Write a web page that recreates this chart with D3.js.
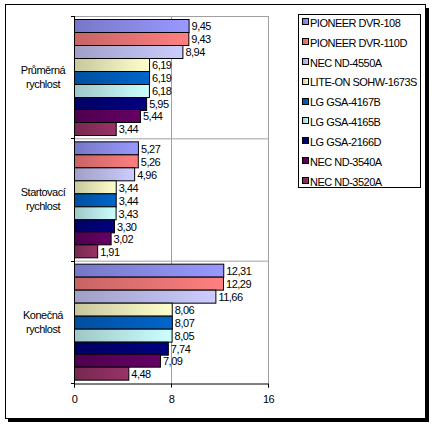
<!DOCTYPE html>
<html><head><meta charset="utf-8">
<script src="https://cdn.jsdelivr.net/npm/d3@7"></script>
<style>body{margin:0;background:#fff}svg{display:block}text{font-family:Arial,"Liberation Sans",sans-serif;font-size:11px;fill:#000;letter-spacing:-0.5px}</style>
</head><body><svg id="c" width="434" height="427"></svg>
<script>
const categories = [["Průměrná","rychlost"],["Startovací","rychlost"],["Konečná","rychlost"]];
const seriesNames = ["PIONEER DVR-108","PIONEER DVR-110D","NEC ND-4550A","LITE-ON SOHW-1673S","LG GSA-4167B","LG GSA-4165B","LG GSA-2166D","NEC ND-3540A","NEC ND-3520A"];
const prumerna = [9.45,9.43,8.94,6.19,6.19,6.18,5.95,5.44,3.44];
const startovaci = [5.27,5.26,4.96,3.44,3.44,3.43,3.30,3.02,1.91];
const konecna = [12.31,12.29,11.66,8.06,8.07,8.05,7.74,7.09,4.48];
const xTicks = [0,8,16];
const colors = ["#9999ff","#ff8080","#ccccff","#ffffcc","#0066cc","#ccffff","#000080","#660066","#993366"];

const values = [prumerna,startovaci,konecna];
const svg = d3.select("#c");
const defs = svg.append("defs");
colors.forEach((c,i)=>{
  const g = defs.append("linearGradient").attr("id","g"+i).attr("x1",0).attr("x2",1).attr("y1",0).attr("y2",0);
  g.append("stop").attr("offset",0).attr("stop-color",d3.color(c).darker(0.7));
  g.append("stop").attr("offset",1).attr("stop-color",c);
});

// frame with shadow
svg.append("rect").attr("x",8).attr("y",8).attr("width",421).attr("height",414).attr("fill","#000");
svg.append("rect").attr("x",5.5).attr("y",4.5).attr("width",420).attr("height",414).attr("fill","#fff").attr("stroke","#000");

const L=74, R=268, T=16, B=383;
const x = d3.scaleLinear().domain([0,16]).range([L,R]);
const y0 = d3.scaleBand().domain(d3.range(categories.length)).range([T,B]).paddingInner(0).paddingOuter(0);
const y1 = d3.scaleBand().domain(d3.range(seriesNames.length)).range([0,y0.bandwidth()]).paddingOuter(0.23);

// grid
const grid = svg.append("g");
xTicks.filter(d=>d>0).forEach(d=>grid.append("line").attr("x1",x(d)+0.5).attr("x2",x(d)+0.5).attr("y1",T).attr("y2",B).attr("stroke","#a0a0a0"));
d3.range(categories.length).forEach(i=>grid.append("line").attr("x1",L).attr("x2",R).attr("y1",y0(i)+0.5).attr("y2",y0(i)+0.5).attr("stroke","#a0a0a0"));

// bars
categories.forEach((cat,ci)=>{
  const g = svg.append("g").attr("transform",`translate(0,${y0(ci)})`);
  values[ci].forEach((v,si)=>{
    g.append("rect").attr("x",L+0.5).attr("y",Math.round(y1(si))+0.5).attr("width",x(v)-L).attr("height",Math.round(y1.bandwidth()))
      .attr("fill",`url(#g${si})`).attr("stroke","#000");
    g.append("text").attr("x",x(v)+3).attr("y",Math.round(y1(si))+y1.bandwidth()/2+1).attr("dy","0.35em").text(d3.format(".2f")(v).replace(".",","));
  });
  // category label
  const cy = y0(ci)+y0.bandwidth()/2;
  svg.append("text").attr("x",43).attr("y",cy-7).attr("dy","0.35em").attr("text-anchor","middle").text(cat[0]);
  svg.append("text").attr("x",43).attr("y",cy+7).attr("dy","0.35em").attr("text-anchor","middle").text(cat[1]);
});

// axes
const xa = svg.append("g").attr("transform",`translate(0,${B+0.5})`).call(d3.axisBottom(x).tickValues(xTicks).tickSize(4).tickPadding(8).tickFormat(d3.format("d")));
xa.select(".domain").attr("stroke","#000");
xa.selectAll("text").attr("font-size",null).attr("font-family",null);
svg.append("line").attr("x1",L+0.5).attr("x2",L+0.5).attr("y1",T).attr("y2",B+1).attr("stroke","#000");
d3.range(categories.length+1).forEach(i=>{
  const yy = T + i*y0.bandwidth();
  svg.append("line").attr("x1",L-3).attr("x2",L).attr("y1",Math.round(yy)+0.5).attr("y2",Math.round(yy)+0.5).attr("stroke","#000");
});

// legend
const lg = svg.append("g");
lg.append("rect").attr("x",298.5).attr("y",14.5).attr("width",122).attr("height",173).attr("fill","#fff").attr("stroke","#000");
seriesNames.forEach((n,i)=>{
  const cy = 22 + i*19.875;
  lg.append("rect").attr("x",302.5).attr("y",Math.round(cy)-3.5).attr("width",6).attr("height",6).attr("fill",`url(#g${i})`).attr("stroke","#000");
  lg.append("text").attr("x",310).attr("y",cy+1).attr("dy","0.35em").text(n);
});
</script></body></html>
